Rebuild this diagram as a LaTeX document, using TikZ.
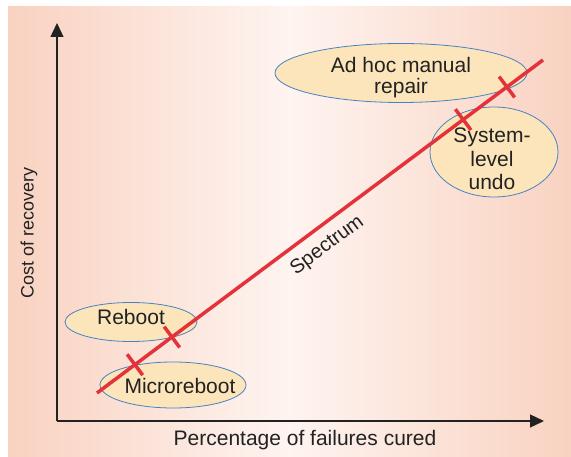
\documentclass[tikz,border=0pt]{standalone}
\usepackage{fontspec}
\setmainfont{Liberation Sans}
\usepackage{tikz}
\usetikzlibrary{arrows.meta, calc, shapes.geometric}
\definecolor{bgside}{RGB}{249, 210, 193}
\definecolor{bgmid}{RGB}{254, 244, 240}
\definecolor{spectrumred}{RGB}{228, 50, 58}
\definecolor{bubblefill}{RGB}{252, 229, 186}
\definecolor{bubbleline}{RGB}{70, 130, 195}
\definecolor{inkgray}{RGB}{34, 34, 34}

\begin{document}
\begin{tikzpicture}[
    x=1pt, y=-1pt,
    bubble/.style={ellipse, draw=bubbleline, line width=0.8pt, fill=bubblefill, inner sep=0pt},
    bubbletext/.style={text=inkgray, align=center, inner sep=0pt, font=\fontsize{21}{21}\selectfont},
    axis/.style={line width=1.3pt, draw=inkgray, -{Triangle[length=14pt, width=13pt]}},
    spectrum/.style={line width=3.5pt, draw=spectrumred},
    tick/.style={line width=3.5pt, draw=spectrumred},
    axislabel/.style={text=inkgray, inner sep=0pt}
]
    % Background
    \useasboundingbox (0,0) rectangle (571,457);
    \shade[left color=bgside, right color=bgside, middle color=bgmid] (8,7) rectangle (571,457);

    % Axes
    \coordinate (origin) at (57,421);
    \coordinate (ytop) at (57,23);
    \coordinate (xend) at (544,421);
    \draw[axis] (origin) -- (ytop);
    \draw[axis] (origin) -- (xend);
    \node[axislabel, font=\fontsize{21}{21}\selectfont] (xlabel) at (305,440) {Percentage of failures cured};
    \node[axislabel, font=\fontsize{18}{18}\selectfont, rotate=90] (ylabel) at (29,233) {Cost of recovery};

    % Recovery techniques
    \node[bubble, minimum width=132pt, minimum height=39pt] (reboot) at (131,322) {};
    \node[bubbletext, anchor=base] (reboottext) at (131,325) {Reboot};
    \node[bubble, minimum width=146pt, minimum height=46pt] (micro) at (173,385) {};
    \node[bubbletext, anchor=base] (microtext) at (180,393) {Microreboot};
    \node[bubble, minimum width=252pt, minimum height=59pt] (adhoc) at (401,73) {};
    \node[bubbletext] (adhoctext) at (401,78) {Ad hoc manual\\repair};
    \node[bubble, minimum width=128pt, minimum height=90pt] (undo) at (494,152) {};
    \node[bubbletext, font=\fontsize{21}{23.5}\selectfont] (undotext) at (492,159) {System-\\level\\undo};

    % Spectrum line
    \coordinate (lo) at (97,393);
    \coordinate (hi) at (543,60);
    \draw[spectrum] (lo) -- (hi) node[pos=0.49, sloped, below=9pt, inner sep=0pt, text=inkgray,
        font=\fontsize{20}{20}\selectfont] (spec) {Spectrum};

    % Cross marks
    \foreach \name/\t in {m1/0.085, m2/0.168, m3/0.821, m4/0.919} {
        \coordinate (\name) at ($(lo)!\t!(hi)$);
        \draw[tick] ($(\name)!13pt!90:(hi)$) -- ($(\name)!13pt!-90:(hi)$);
    }
\end{tikzpicture}
\end{document}
